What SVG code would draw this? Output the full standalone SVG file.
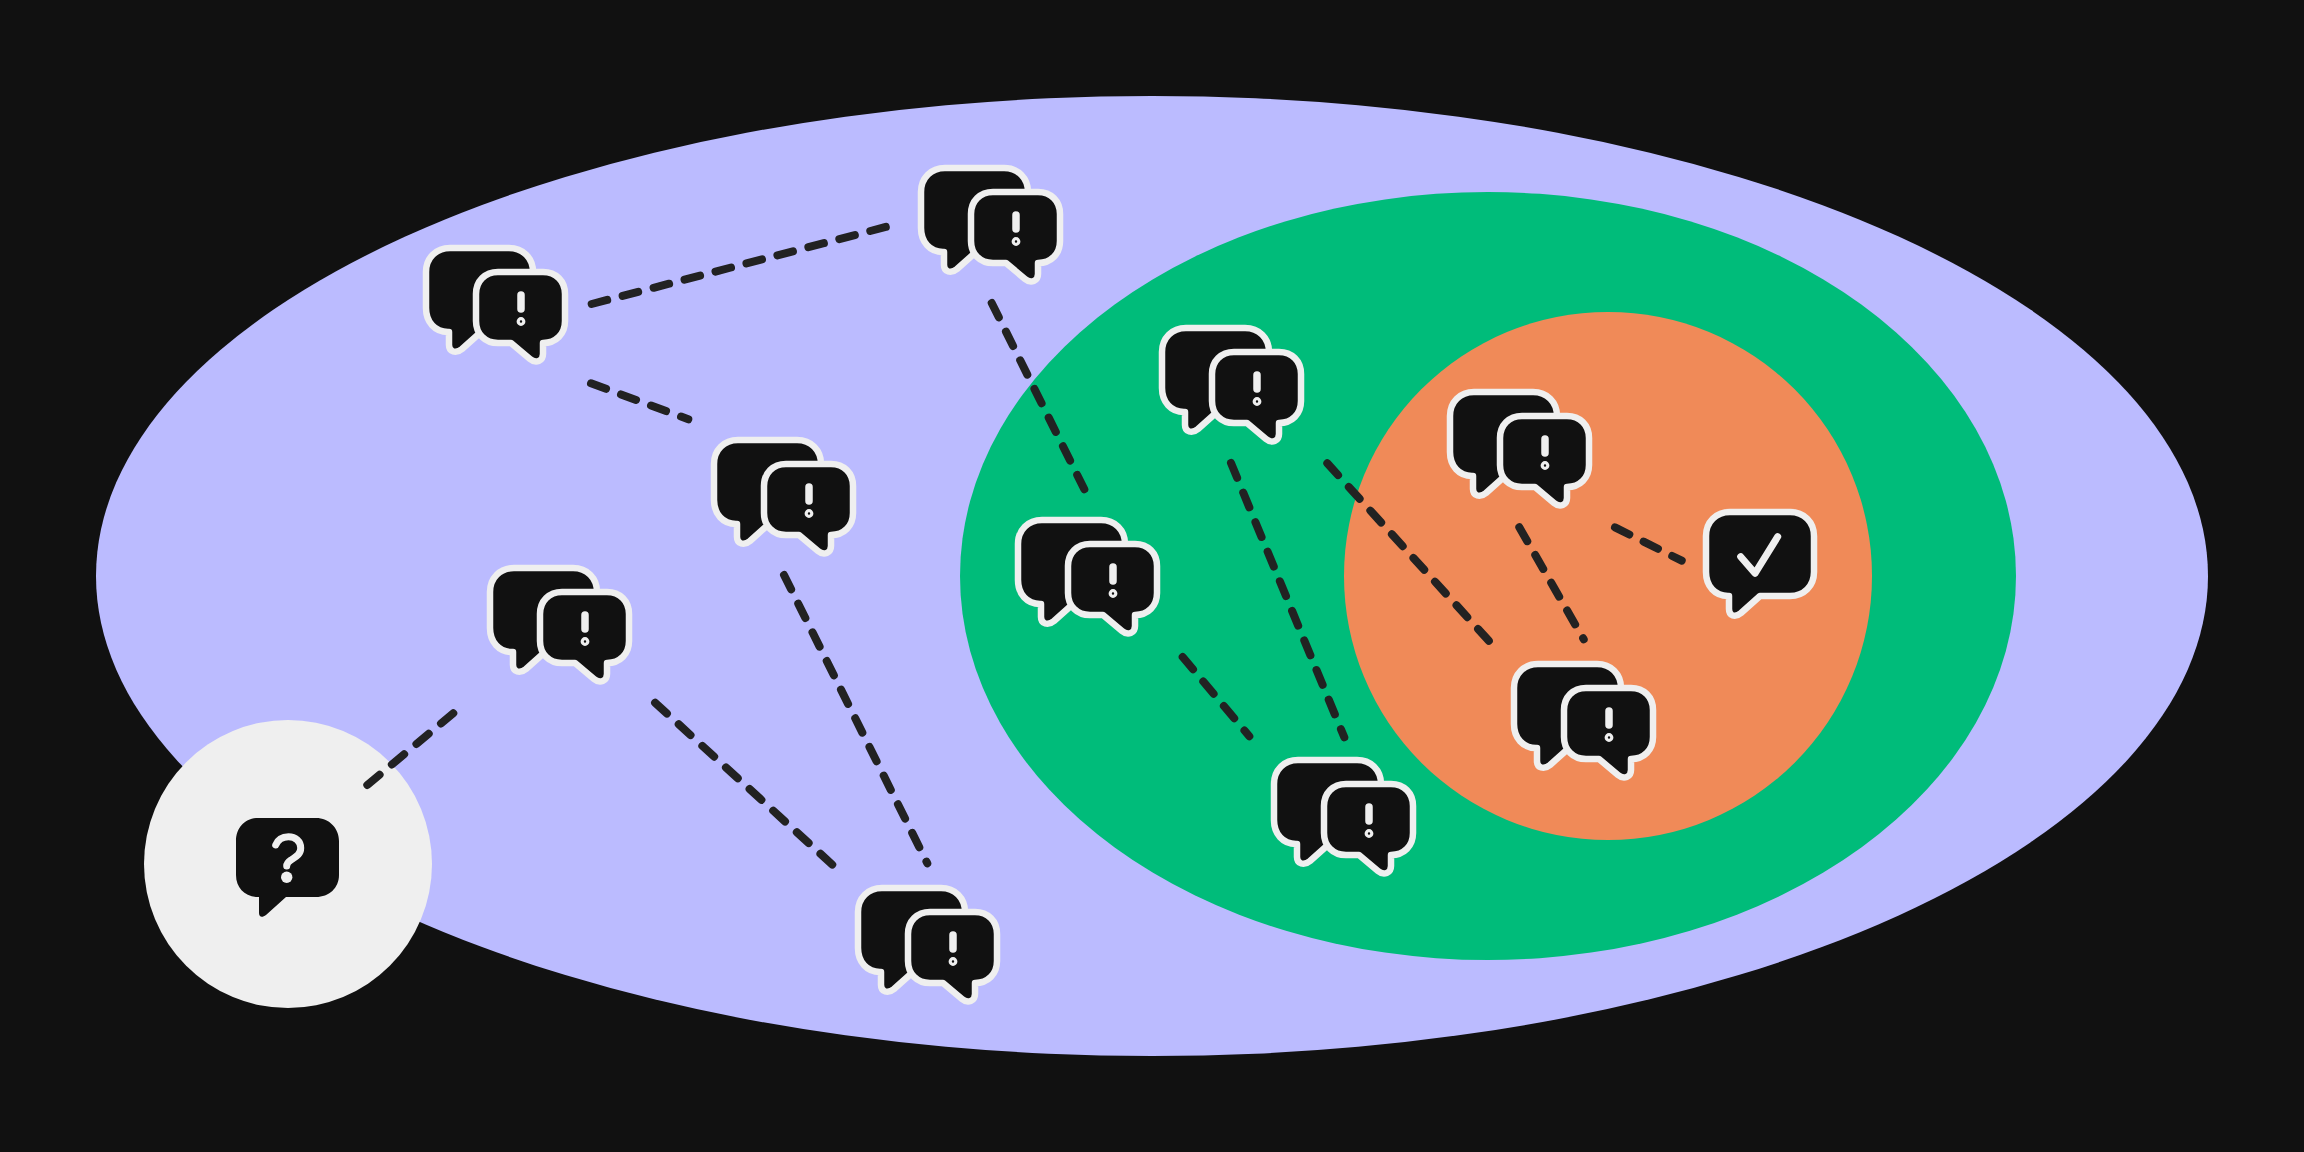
<svg xmlns="http://www.w3.org/2000/svg" xmlns:xlink="http://www.w3.org/1999/xlink" width="2304" height="1152" viewBox="0 0 2304 1152">
<style>
.d{fill:none;stroke:#222222;stroke-width:8;stroke-linecap:round;stroke-dasharray:16 16}
.b{fill:#111111;stroke:#EFEFEF;stroke-width:6.5;stroke-linejoin:round}
.m{fill:none;stroke:#EFEFEF;stroke-linecap:round;stroke-linejoin:round}
</style>
<defs>
<g id="pair">
<path class="b" d="M24 0H83C97 0 107 10 107 24V60C107 74 97 84 83 84H55L36 101C30 106 23 104 23 97V84H22C9 84 0 74 0 60V24C0 10 10 0 24 0Z"/>
<path class="b" d="M72 24H117C130 24 139 33 139 46V73C139 86 130 95 117 95V106C117 113 110 116 104 111L85 95H72C59 95 50 86 50 73V46C50 33 59 24 72 24Z"/>
<path class="m" stroke-width="7.5" d="M95 47V61"/>
<circle cx="95" cy="73.5" r="2.8" fill="none" stroke="#EFEFEF" stroke-width="3.2"/>
</g>
</defs>
<rect width="2304" height="1152" fill="#111111"/>
<ellipse cx="1152" cy="576" rx="1056" ry="480" fill="#BBBBFF"/>
<ellipse cx="1488" cy="576" rx="528" ry="384" fill="#00BC7A"/>
<circle cx="1608" cy="576" r="264" fill="#F08A58"/>
<circle cx="288" cy="864" r="144" fill="#EFEFEF"/>
<g id="connectors">
<path class="d" d="M591.7 304L886.7 226.7"/>
<path class="d" d="M591 383.3L688.3 419.3"/>
<path class="d" d="M991.7 303L1085.3 491.2"/>
<path class="d" d="M784 575L927.3 863.3"/>
<path class="d" d="M655.1 702.7L833 865.3"/>
<path class="d" d="M367.3 785L455.1 711.7"/>
<path class="d" d="M1231 463L1344.3 737.3"/>
<path class="d" d="M1327.3 463.3L1489 641"/>
<path class="d" d="M1182.7 657L1249.3 736.2"/>
<path class="d" d="M1519.3 527.3L1583.7 639.3"/>
<path class="d" d="M1615 527.3L1681.7 560.7"/>
</g>
<g id="n1"><use xlink:href="#pair" x="426" y="248"/></g>
<g id="n2"><use xlink:href="#pair" x="921" y="168"/></g>
<g id="n3"><use xlink:href="#pair" x="714" y="440"/></g>
<g id="n4"><use xlink:href="#pair" x="490" y="568"/></g>
<g id="n5"><use xlink:href="#pair" x="1162" y="328"/></g>
<g id="n6"><use xlink:href="#pair" x="1450" y="392"/></g>
<g id="n7"><use xlink:href="#pair" x="1018" y="520"/></g>
<g id="n8"><use xlink:href="#pair" x="1514" y="664"/></g>
<g id="n9"><use xlink:href="#pair" x="1274" y="760"/></g>
<g id="n10"><use xlink:href="#pair" x="858" y="888"/></g>
<g id="start">
<path fill="#111111" d="M258 818H316C329 818 339 828 339 841V875C339 888 329 897 316 897H286L266 915C262 918 259 917 259 913V897H258C245 897 236 888 236 875V841C236 828 245 818 258 818Z"/>
<path class="m" stroke-width="7" d="M275.7 845C278 839 283 836.7 288.5 836.7C295.5 836.7 300.7 841.5 300.7 848C300.7 854 296.5 856.5 292.5 859C289 861.5 286.7 862.5 286.7 866"/>
<circle cx="286.7" cy="877.3" r="5.7" fill="#EFEFEF"/>
</g>
<g id="end">
<path class="b" d="M1730 512H1790C1804 512 1814 522 1814 536V572C1814 586 1804 596 1790 596H1760L1741 613C1735 618 1729 616 1729 609V596H1728C1715 596 1706 586 1706 572V536C1706 522 1716 512 1730 512Z"/>
<path class="m" stroke-width="7" d="M1740.7 556.7L1755 573.3L1777.7 536.7"/>
</g>
</svg>
